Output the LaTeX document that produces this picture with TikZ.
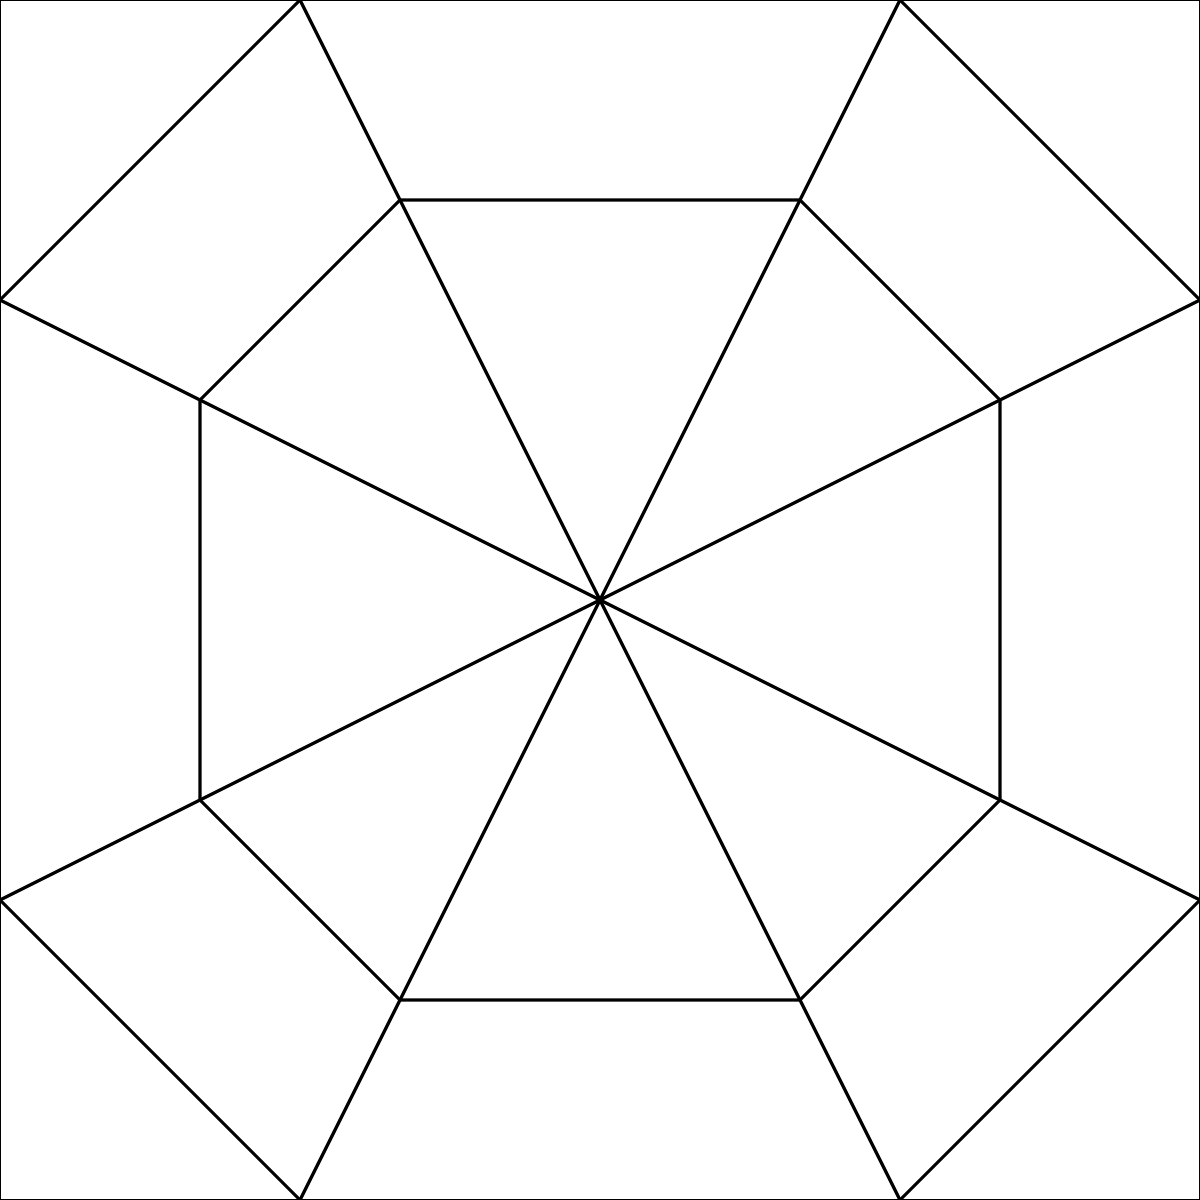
\documentclass[tikz,border=0pt]{standalone}
\begin{document}
\begin{tikzpicture}[edge/.style={line width=0.9pt,line join=round}]
\useasboundingbox (0,0) rectangle (12,12);
\draw[line width=0.7pt] (0,0) rectangle (12,12);
\coordinate (O) at (6,6);
\coordinate (A1) at (4,10); \coordinate (A2) at (8,10);
\coordinate (A3) at (10,8); \coordinate (A4) at (10,4);
\coordinate (A5) at (8,2);  \coordinate (A6) at (4,2);
\coordinate (A7) at (2,4);  \coordinate (A8) at (2,8);
\coordinate (B1) at (3,12); \coordinate (B2) at (9,12);
\coordinate (B3) at (12,9); \coordinate (B4) at (12,3);
\coordinate (B5) at (9,0);  \coordinate (B6) at (3,0);
\coordinate (B7) at (0,3);  \coordinate (B8) at (0,9);
\draw[edge] (A1)--(A2)--(A3)--(A4)--(A5)--(A6)--(A7)--(A8)--cycle;
\foreach \i in {1,...,8} \draw[edge] (O)--(B\i);
\draw[edge] (B1)--(B8);
\draw[edge] (B2)--(B3);
\draw[edge] (B4)--(B5);
\draw[edge] (B6)--(B7);
\end{tikzpicture}
\end{document}
